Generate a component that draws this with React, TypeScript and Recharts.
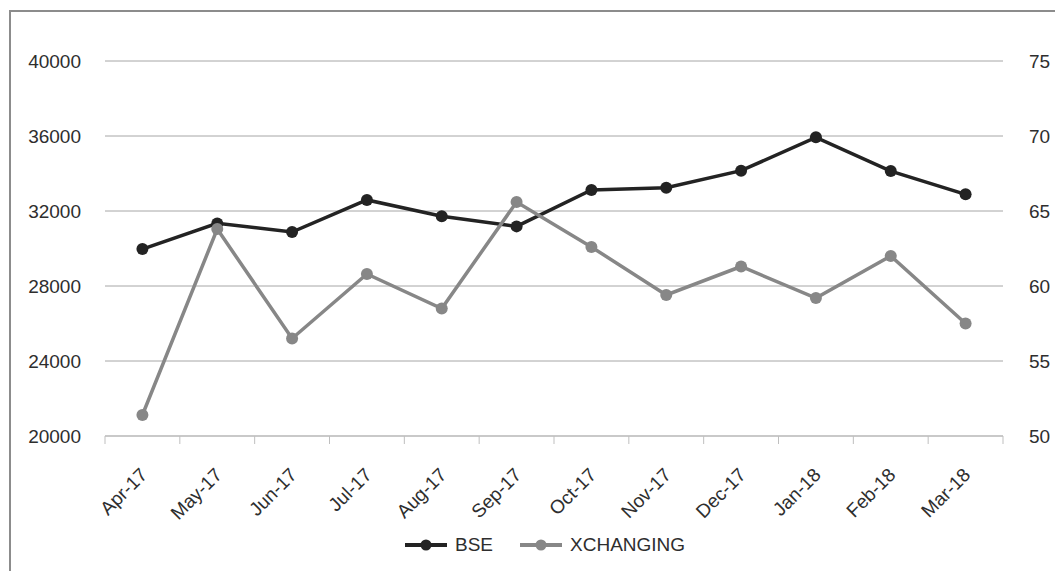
import { LineChart, Line, XAxis, YAxis, CartesianGrid, Legend } from 'recharts';

const months = ['Apr-17', 'May-17', 'Jun-17', 'Jul-17', 'Aug-17', 'Sep-17', 'Oct-17', 'Nov-17', 'Dec-17', 'Jan-18', 'Feb-18', 'Mar-18'];
const bse = [29970, 31340, 30880, 32590, 31720, 31180, 33120, 33240, 34150, 35930, 34130, 32890];
const xchanging = [51.4, 63.8, 56.5, 60.8, 58.5, 65.6, 62.6, 59.4, 61.3, 59.2, 62.0, 57.5];
const leftTicks = [20000, 24000, 28000, 32000, 36000, 40000];
const rightTicks = [50, 55, 60, 65, 70, 75];

const FONT = 'Liberation Sans, Arial, sans-serif';
const TEXT = '#2e2e2e';

const data = months.map((m, i) => ({ x: i + 0.5, month: m, BSE: bse[i], XCHANGING: xchanging[i] }));
const boundaryTicks = months.map((_, i) => i).concat(months.length);
const centerTicks = months.map((_, i) => i + 0.5);

// rotated month label, end of text sits up-right near the category centre
const MonthTick = ({ x, y, payload }: any) => {
  const label = months[Math.round(payload.value - 0.5)];
  const ax = x + 6;
  const ay = y + 32;
  return (
    <text x={ax} y={ay} transform={`rotate(-45, ${ax}, ${ay})`} textAnchor="end" fontSize={19} fill={TEXT} fontFamily={FONT}>
      {label}
    </text>
  );
};

const LegendContent = ({ payload }: any) => (
  <div style={{ display: 'flex', alignItems: 'center', fontFamily: FONT, fontSize: 19, color: TEXT }}>
    {(payload || []).map((p: any) => (
      <div key={p.value} style={{ display: 'flex', alignItems: 'center', marginRight: 27 }}>
        <svg width={42} height={14} style={{ marginRight: 8 }}>
          <line x1={0} y1={7} x2={42} y2={7} stroke={p.color} strokeWidth={4} />
          <circle cx={21} cy={7} r={5.5} fill={p.color} />
        </svg>
        <span>{p.value}</span>
      </div>
    ))}
  </div>
);

export default function App() {
  return (
    <div style={{ position: 'absolute', left: 0, top: 0, width: 1055, height: 571, overflow: 'hidden', background: '#fff' }}>
      <div style={{ position: 'absolute', left: 9, top: 10, width: 1200, height: 700, borderLeft: '2px solid #8c8c8c', borderTop: '2px solid #8c8c8c' }} />
      <div style={{ position: 'absolute', left: 0, top: 0 }}>
        <LineChart width={1055} height={571} data={data} margin={{ top: 61, right: 0, bottom: 0, left: 0 }}>
          <CartesianGrid vertical={false} stroke="#a6a6a6" yAxisId="left" xAxisId="b" />
          <XAxis
            xAxisId="a"
            dataKey="x"
            type="number"
            domain={[0, 12]}
            ticks={boundaryTicks}
            interval={0}
            height={8}
            tick={() => <g />}
            tickSize={8}
            tickLine={{ stroke: '#bfbfbf' }}
            axisLine={{ stroke: '#bfbfbf' }}
          />
          <XAxis
            xAxisId="b"
            dataKey="x"
            type="number"
            domain={[0, 12]}
            ticks={centerTicks}
            interval={0}
            height={127}
            tick={<MonthTick />}
            tickLine={false}
            axisLine={false}
            tickSize={0}
            tickMargin={0}
          />
          <YAxis
            yAxisId="left"
            domain={[20000, 40000]}
            ticks={leftTicks}
            width={105}
            axisLine={false}
            tickLine={false}
            tickSize={0}
            tickMargin={24}
            tick={{ fontSize: 19, fill: TEXT, fontFamily: FONT }}
          />
          <YAxis
            yAxisId="right"
            orientation="right"
            domain={[50, 75]}
            ticks={rightTicks}
            width={52}
            axisLine={false}
            tickLine={false}
            tickSize={0}
            tickMargin={26}
            tick={{ fontSize: 19, fill: TEXT, fontFamily: FONT }}
          />
          <Legend
            verticalAlign="middle"
            align="center"
            content={<LegendContent />}
            wrapperStyle={{ top: 534, left: 405, width: 400, height: 26 }}
          />
          <Line
            xAxisId="b"
            yAxisId="left"
            dataKey="BSE"
            stroke="#232323"
            strokeWidth={3.5}
            dot={{ r: 6, fill: '#232323', stroke: 'none' }}
            isAnimationActive={false}
          />
          <Line
            xAxisId="b"
            yAxisId="right"
            dataKey="XCHANGING"
            stroke="#878787"
            strokeWidth={3.5}
            dot={{ r: 6, fill: '#878787', stroke: 'none' }}
            isAnimationActive={false}
          />
        </LineChart>
      </div>
    </div>
  );
}
